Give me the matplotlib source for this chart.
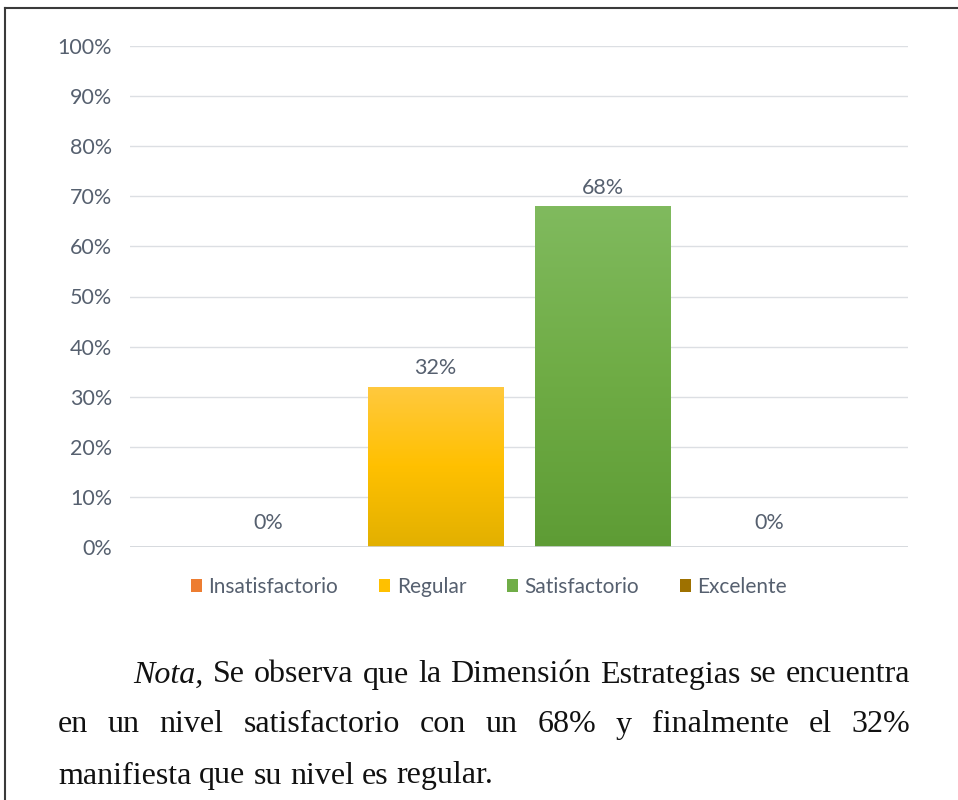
import numpy as np
import matplotlib
matplotlib.use("Agg")
from matplotlib import pyplot as plt
from matplotlib.colors import LinearSegmentedColormap
from matplotlib.patches import Patch
from matplotlib.lines import Line2D

categorias = ["Insatisfactorio", "Regular", "Satisfactorio", "Excelente"]
porcentajes = [0, 32, 68, 0]
etiquetas = ["0%", "32%", "68%", "0%"]
ticks_y = [0, 10, 20, 30, 40, 50, 60, 70, 80, 90, 100]

# colores (arriba, medio, abajo) para el degradado
degradados = [
    ("#F4A067", "#ED7D31", "#D86A20"),
    ("#FFC93F", "#FFC000", "#E2B000"),
    ("#80BA5E", "#6FAC45", "#5E9C35"),
    ("#B58A1A", "#9E7100", "#8A6200"),
]
leyenda_colores = ["#ED7D31", "#FFC000", "#70AD47", "#9E7100"]

nota_lineas = [
    ["Nota,", "Se", "observa", "que", "la", "Dimensión", "Estrategias", "se", "encuentra"],
    ["en", "un", "nivel", "satisfactorio", "con", "un", "68%", "y", "finalmente", "el", "32%"],
    ["manifiesta", "que", "su", "nivel", "es", "regular."],
]

W, H = 958, 800
fig = plt.figure(figsize=(W / 100, H / 100), dpi=100)
ax = fig.add_axes([130 / W, 1 - 547 / H, (908 - 130) / W, (547 - 46) / H])

txt_color = "#56606F"
grid_color = "#DCDFE3"
fs = 15.5
x = np.arange(len(categorias))
ancho = 0.81

ax.set_xlim(-0.83, 3.83)
ax.set_ylim(0, 100)
for y in ticks_y[1:]:
    ax.axhline(y, color=grid_color, lw=1.0, zorder=0)
ax.axhline(0, color="#D0D3D8", lw=1.2, zorder=3)

for xi, val, cols in zip(x, porcentajes, degradados):
    if val <= 0:
        continue
    bar = ax.bar(xi, val, width=ancho, color="none", edgecolor="none", zorder=2)[0]
    cmap = LinearSegmentedColormap.from_list("g", [cols[2], cols[1], cols[0]])
    grad = np.linspace(0, 1, 256).reshape(-1, 1)
    im = ax.imshow(grad, cmap=cmap, origin="lower", aspect="auto",
                   extent=[xi - ancho / 2, xi + ancho / 2, 0, val], zorder=2)
    im.set_clip_path(bar)

for xi, val, lab in zip(x, porcentajes, etiquetas):
    ax.annotate(lab, (xi, val), xytext=(0, 6 if val > 0 else 10),
                textcoords="offset points", ha="center", va="bottom",
                fontsize=fs, color=txt_color, family="Lato")

ax.set_xlim(-0.83, 3.83)
ax.set_ylim(0, 100)
ax.set_yticks(ticks_y)
ax.set_yticklabels([f"{t}%" for t in ticks_y], fontsize=fs, color=txt_color, family="Lato")
ax.tick_params(axis="y", length=0, pad=13)
ax.set_xticks([])
for s in ax.spines.values():
    s.set_visible(False)

handles = [Patch(facecolor=c, edgecolor="none") for c in leyenda_colores]
fig.legend(handles, categorias, loc="center", bbox_to_anchor=(489 / W, 1 - 587 / H),
           ncol=4, frameon=False, handlelength=0.55, handleheight=0.55,
           handletextpad=0.3, columnspacing=1.95,
           prop={"family": "Lato", "size": 15}, labelcolor=txt_color)

# marco del documento
fig.add_artist(Line2D([5 / W, 5 / W], [0, 1 - 8 / H], color="#3A3A3A", lw=1.5,
                      transform=fig.transFigure))
fig.add_artist(Line2D([5 / W, 1], [1 - 8 / H, 1 - 8 / H], color="#3A3A3A", lw=1.5,
                      transform=fig.transFigure))

# nota con texto justificado
renderer = fig.canvas.get_renderer()
fs_nota = 23
lineas_cfg = [(133, 910, 675, True), (58, 910, 725, True), (58, None, 776, False)]
for palabras, (x0, x1, yc, justificar) in zip(nota_lineas, lineas_cfg):
    objs = []
    for p in palabras:
        estilo = "italic" if p == "Nota," else "normal"
        t = fig.text(0, 1 - yc / H, p, fontsize=fs_nota, family="Liberation Serif",
                     style=estilo, color="#111111", va="center", ha="left")
        objs.append(t)
    anchos = [t.get_window_extent(renderer).width for t in objs]
    if justificar:
        esp = (x1 - x0 - sum(anchos)) / (len(objs) - 1)
    else:
        esp = fs_nota * 100 / 72 * 0.25
    pos = x0
    for t, w in zip(objs, anchos):
        t.set_x(pos / W)
        pos += w + esp

fig.savefig("out.png", dpi=100)
